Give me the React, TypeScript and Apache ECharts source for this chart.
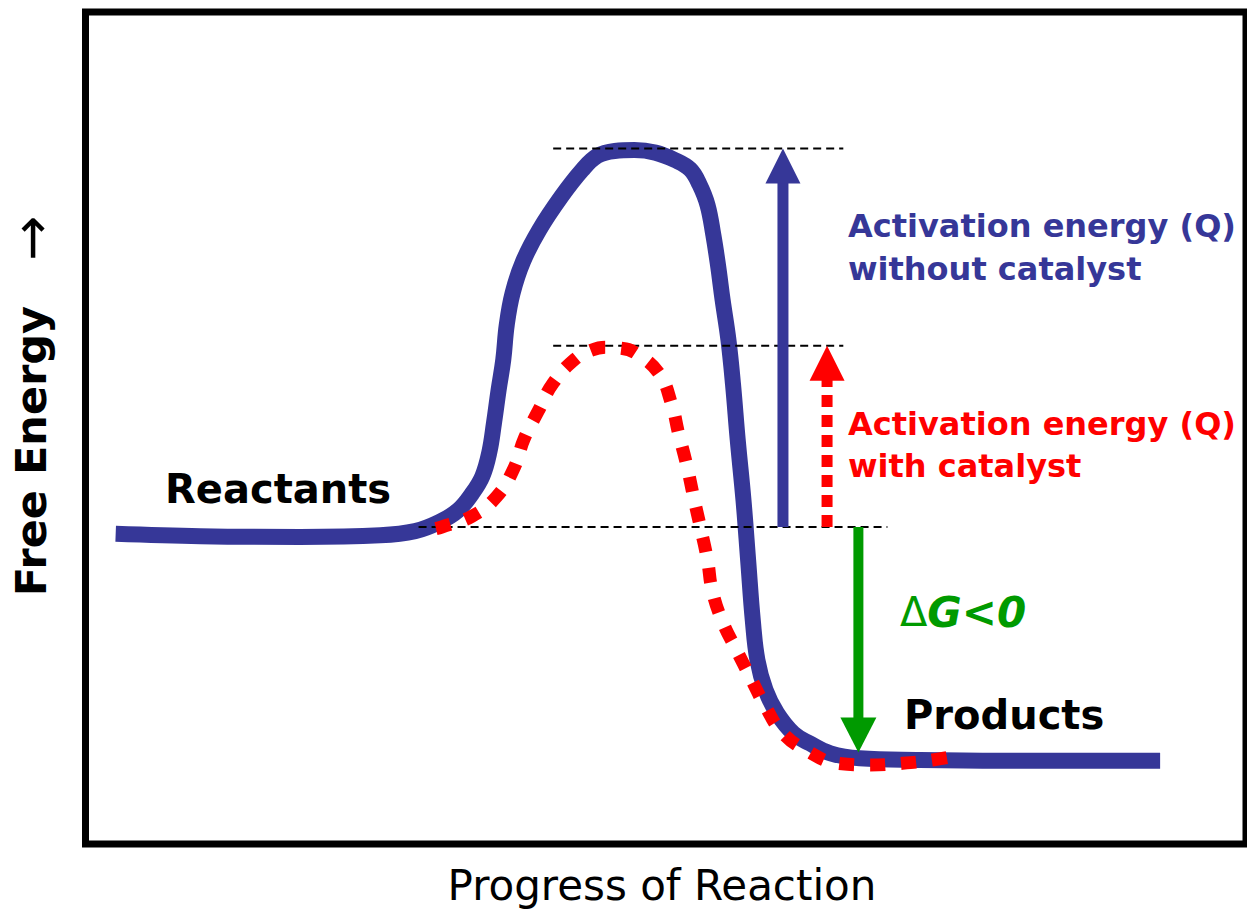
import React, { useEffect, useRef } from "react";
import * as echarts from "echarts";

// Progress of reaction (x) and free energy (y), arbitrary units 0-100
const uncatX = [2.6, 9.9, 18.5, 25.4, 28.4, 30.5, 32.1, 33.3, 34.2, 34.8, 35.2, 35.6, 36.0, 36.3, 36.8, 37.7, 39.1, 41.0, 42.8, 44.1, 45.6, 47.3, 49.1, 50.8, 52.1, 52.9, 53.6, 54.1, 54.5, 54.9, 55.4, 55.8, 56.2, 56.7, 57.1, 57.5, 57.9, 58.6, 59.6, 61.0, 62.4, 64.2, 66.7, 71.9, 78.8, 92.6];
const uncatY = [37.3, 37.0, 36.9, 37.1, 37.6, 38.7, 40.1, 42.1, 44.2, 47.1, 50.6, 54.6, 58.2, 62.4, 66.2, 70.0, 73.8, 77.8, 81.0, 82.7, 83.3, 83.4, 83.1, 82.2, 81.1, 79.3, 76.8, 73.2, 69.6, 65.4, 60.6, 55.2, 48.6, 41.3, 34.1, 26.9, 22.1, 18.5, 15.7, 13.3, 12.1, 10.9, 10.3, 10.1, 10.0, 10.0];

const catX = [30.2, 30.7, 33.3, 35.4, 36.9, 37.8, 39.0, 40.3, 42.2, 43.5, 44.8, 46.1, 47.4, 49.4, 50.5, 51.1, 51.8, 52.4, 53.0, 53.6, 54.0, 54.9, 56.1, 57.3, 58.6, 60.1, 62.3, 64.8, 67.6, 70.4, 73.0, 75.5];
const catY = [37.9, 38.1, 39.4, 41.7, 45.1, 48.7, 52.0, 55.4, 58.3, 59.3, 59.7, 59.6, 59.0, 56.6, 52.9, 49.4, 45.6, 41.7, 38.0, 34.1, 30.5, 26.7, 23.3, 20.0, 16.5, 13.3, 11.1, 9.7, 9.5, 9.7, 10.1, 10.7];

// Energy levels
const peakUncat = 83.6;
const peakCat = 59.9;
const reactantLevel = 38.1;
const productTip = 11.0;

// Dashed guide lines: [xStart, xEnd, y]
const guideTop = [40.3, 65.3, peakUncat];
const guideMid = [40.3, 65.3, peakCat];
const guideBottom = [28.7, 69.1, reactantLevel];

// Arrow x positions
const arrowUncatX = 60.1;
const arrowCatX = 63.9;
const arrowDeltaX = 66.6;

const BLUE = "#363798";
const RED = "#ff0000";
const GREEN = "#009a00";

const zip = (xs: number[], ys: number[]) => xs.map((x, i) => [x, ys[i]]);

export default function App() {
  const ref = useRef<HTMLDivElement>(null);
  useEffect(() => {
    if (!ref.current) return;
    const chart = echarts.init(ref.current, null, { renderer: "svg" });
    const guide = (g: number[]) => ({
      type: "line",
      data: [[g[0], g[2]], [g[1], g[2]]],
      symbol: "none",
      silent: true,
      z: 3,
      lineStyle: { color: "#000", width: 2, type: [8, 5] },
    });
    const font = "DejaVu Sans";
    chart.setOption({
      animation: false,
      grid: {
        left: 85.5,
        top: 12,
        right: 1,
        bottom: 71,
        show: true,
        borderColor: "#000",
        borderWidth: 7,
        backgroundColor: "transparent",
      },
      xAxis: {
        type: "value",
        min: 0,
        max: 100,
        axisLine: { show: false },
        axisTick: { show: false },
        axisLabel: { show: false },
        splitLine: { show: false },
      },
      yAxis: {
        type: "value",
        min: 0,
        max: 100,
        axisLine: { show: false },
        axisTick: { show: false },
        axisLabel: { show: false },
        splitLine: { show: false },
      },
      series: [
        {
          type: "line",
          data: zip(uncatX, uncatY),
          symbol: "none",
          smooth: 0.4,
          silent: true,
          z: 2,
          lineStyle: { color: BLUE, width: 16, join: "round", cap: "butt" },
        },
        guide(guideTop),
        guide(guideMid),
        guide(guideBottom),
        {
          type: "line",
          data: zip(catX, catY),
          symbol: "none",
          smooth: 0.45,
          silent: true,
          z: 4,
          lineStyle: { color: RED, width: 13, type: [15, 16], cap: "butt" },
        },
        // blue arrow shaft
        {
          type: "line",
          data: [[arrowUncatX, reactantLevel], [arrowUncatX, peakUncat - 3]],
          symbol: "none",
          silent: true,
          z: 5,
          lineStyle: { color: BLUE, width: 11 },
        },
        // red dotted arrow shaft
        {
          type: "line",
          data: [[arrowCatX, reactantLevel], [arrowCatX, peakCat - 4.1]],
          symbol: "none",
          silent: true,
          z: 5,
          lineStyle: { color: RED, width: 11, type: [12, 8] },
        },
        // green arrow shaft
        {
          type: "line",
          data: [[arrowDeltaX, reactantLevel], [arrowDeltaX, productTip + 3]],
          symbol: "none",
          silent: true,
          z: 5,
          lineStyle: { color: GREEN, width: 10 },
        },
        // arrow heads
        {
          type: "scatter",
          silent: true,
          z: 6,
          symbol: "path://M1,0L2,2L0,2Z",
          symbolSize: [35, 35],
          symbolOffset: [0, "50%"],
          itemStyle: { opacity: 1 },
          data: [
            { value: [arrowUncatX, peakUncat], itemStyle: { color: BLUE, opacity: 1 } },
            { value: [arrowCatX, peakCat], itemStyle: { color: RED, opacity: 1 } },
          ],
        },
        {
          type: "scatter",
          silent: true,
          z: 6,
          symbol: "path://M0,0L2,0L1,2Z",
          symbolSize: [36, 35],
          symbolOffset: [0, "-50%"],
          itemStyle: { opacity: 1 },
          data: [{ value: [arrowDeltaX, productTip], itemStyle: { color: GREEN, opacity: 1 } }],
        },
      ],
      graphic: [
        {
          type: "text",
          x: 848,
          y: 226,
          style: { text: "Activation energy (Q)", fill: BLUE, font: `bold 32px "${font}"`, verticalAlign: "middle" },
        },
        {
          type: "text",
          x: 848,
          y: 269,
          style: { text: "without catalyst", fill: BLUE, font: `bold 32px "${font}"`, verticalAlign: "middle" },
        },
        {
          type: "text",
          x: 848,
          y: 424,
          style: { text: "Activation energy (Q)", fill: RED, font: `bold 32px "${font}"`, verticalAlign: "middle" },
        },
        {
          type: "text",
          x: 848,
          y: 466,
          style: { text: "with catalyst", fill: RED, font: `bold 32px "${font}"`, verticalAlign: "middle" },
        },
        {
          type: "text",
          x: 165,
          y: 489,
          style: { text: "Reactants", fill: "#000", font: `bold 40px "${font}"`, verticalAlign: "middle" },
        },
        {
          type: "text",
          x: 904,
          y: 715,
          style: { text: "Products", fill: "#000", font: `bold 40px "${font}"`, verticalAlign: "middle" },
        },
        {
          type: "text",
          x: 900,
          y: 612,
          style: {
            text: "{d|Δ}{g|G<0}",
            verticalAlign: "middle",
            rich: {
              d: { fill: GREEN, font: `40px "${font}"` },
              g: { fill: GREEN, font: `italic bold 42px "${font}"` },
            },
          },
        },
        {
          type: "text",
          x: 662,
          y: 885,
          style: { text: "Progress of Reaction", fill: "#000", font: `42px "${font}"`, align: "center", verticalAlign: "middle" },
        },
        {
          type: "text",
          x: 31,
          y: 451,
          rotation: Math.PI / 2,
          style: { text: "Free Energy", fill: "#000", font: `bold 43px "${font}"`, align: "center", verticalAlign: "middle" },
        },
        {
          type: "text",
          x: 31,
          y: 238,
          rotation: Math.PI / 2,
          style: { text: "→", fill: "#000", font: `54px "${font}"`, align: "center", verticalAlign: "middle" },
        },
      ],
    });
    return () => chart.dispose();
  }, []);
  return (
    <div
      ref={ref}
      style={{ position: "fixed", left: 0, top: 0, width: 1247, height: 915, background: "#fff" }}
    />
  );
}
